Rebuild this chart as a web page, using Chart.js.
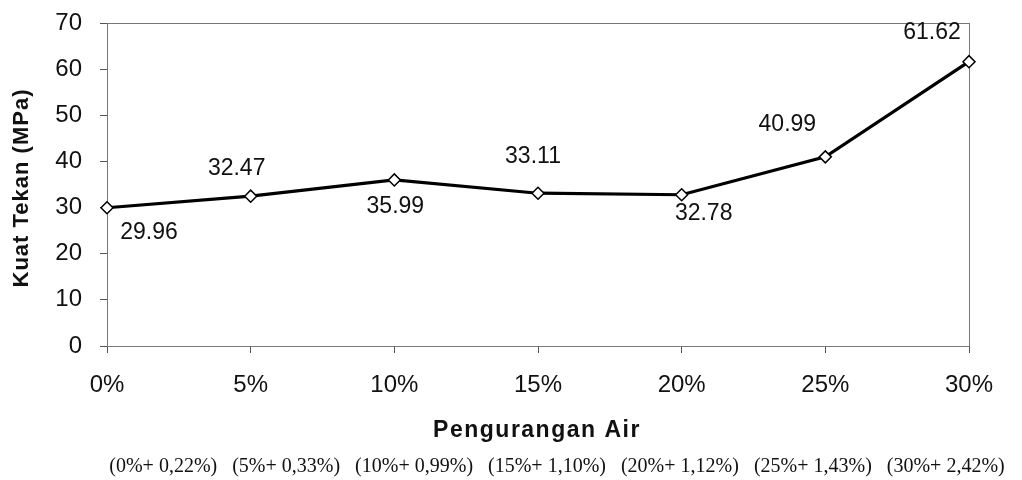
<!DOCTYPE html>
<html><head><meta charset="utf-8">
<script src="https://cdn.jsdelivr.net/npm/chart.js@4.4.1/dist/chart.umd.min.js"></script>
<style>html,body{margin:0;padding:0;background:#fff;}#wrap{width:1022px;height:480px;position:relative;}</style>
</head><body><div id="wrap"><canvas id="c"></canvas></div>
<script>
const categories = ['0%', '5%', '10%', '15%', '20%', '25%', '30%'];
const kuatTekan = [29.96, 32.47, 35.99, 33.11, 32.78, 40.99, 61.62];
const valueLabels = ['29.96', '32.47', '35.99', '33.11', '32.78', '40.99', '61.62'];
const yTickValues = [0, 10, 20, 30, 40, 50, 60, 70];
const subLabels = ['(0%+ 0,22%)', '(5%+ 0,33%)', '(10%+ 0,99%)', '(15%+ 1,10%)', '(20%+ 1,12%)', '(25%+ 1,43%)', '(30%+ 2,42%)'];
const xTitle = 'Pengurangan Air';
const yTitle = 'Kuat Tekan (MPa)';

const labelOffsets = [[42, 25], [-14, -28], [1, 27], [-5, -37], [22, 19], [-38, -32], [-37, -29]];

const decor = {
  id: 'decor',
  beforeDatasetsDraw(chart) {
    const a = chart.chartArea, ctx = chart.ctx;
    ctx.save();
    ctx.strokeStyle = '#777';
    ctx.lineWidth = 1;
    ctx.strokeRect(Math.round(a.left) + 0.5, Math.round(a.top) + 0.5, Math.round(a.right - a.left), Math.round(a.bottom - a.top));
    ctx.restore();
  },
  afterDatasetsDraw(chart) {
    const ctx = chart.ctx, meta = chart.getDatasetMeta(0);
    ctx.save();
    ctx.font = '23px "Liberation Sans", Arial, sans-serif';
    ctx.fillStyle = '#111';
    ctx.textAlign = 'center';
    ctx.textBaseline = 'middle';
    meta.data.forEach((pt, i) => {
      const o = labelOffsets[i];
      ctx.fillText(valueLabels[i], pt.x + o[0], pt.y + o[1]);
    });
    ctx.restore();
  },
  afterDraw(chart) {
    const ctx = chart.ctx;
    ctx.save();
    ctx.fillStyle = '#111';
    ctx.textAlign = 'center';
    ctx.textBaseline = 'middle';
    ctx.letterSpacing = '1.5px';
    ctx.font = 'bold 23px "Liberation Sans", Arial, sans-serif';
    ctx.fillText(xTitle, 537, 431);
    ctx.letterSpacing = '1px';
    ctx.font = 'bold 22px "Liberation Sans", Arial, sans-serif';
    ctx.save();
    ctx.translate(22, 188);
    ctx.rotate(-Math.PI / 2);
    ctx.fillText(yTitle, 0, 0);
    ctx.restore();
    ctx.letterSpacing = '0px';
    ctx.font = '20px "Liberation Serif", "Times New Roman", serif';
    ctx.fillText(subLabels.join('   '), 557, 467);
    ctx.restore();
  }
};

new Chart(document.getElementById('c'), {
  type: 'line',
  data: {
    labels: categories,
    datasets: [{
      data: kuatTekan,
      borderColor: '#000',
      borderWidth: 3.2,
      pointStyle: 'rectRot',
      pointRadius: 6,
      pointBackgroundColor: '#fff',
      pointBorderColor: '#000',
      pointBorderWidth: 1.5,
      tension: 0
    }]
  },
  options: {
    responsive: true,
    maintainAspectRatio: false,
    animation: false,
    layout: { padding: { left: 0, top: 23, right: 53, bottom: 0 } },
    plugins: { legend: { display: false }, tooltip: { enabled: false } },
    scales: {
      x: {
        type: 'category',
        offset: false,
        grid: { display: true, drawOnChartArea: false, drawTicks: true, tickLength: 7, color: '#555' },
        border: { display: false },
        ticks: { font: { family: '"Liberation Sans", Arial, sans-serif', size: 24 }, color: '#111', padding: 18, maxRotation: 0, autoSkip: false },
        afterFit(s) { s.height = 134; s.paddingLeft = 0; s.paddingRight = 0; }
      },
      y: {
        min: 0, max: 70,
        grid: { display: true, drawOnChartArea: false, drawTicks: true, tickLength: 7, color: '#555' },
        border: { display: false },
        ticks: { font: { family: '"Liberation Sans", Arial, sans-serif', size: 24 }, color: '#111', padding: 18, stepSize: 10 },
        afterBuildTicks(s) { s.ticks = yTickValues.map(v => ({ value: v })); },
        afterFit(s) { s.width = 107; s.paddingTop = 0; s.paddingBottom = 0; }
      }
    }
  },
  plugins: [decor]
});
</script>
</body></html>
